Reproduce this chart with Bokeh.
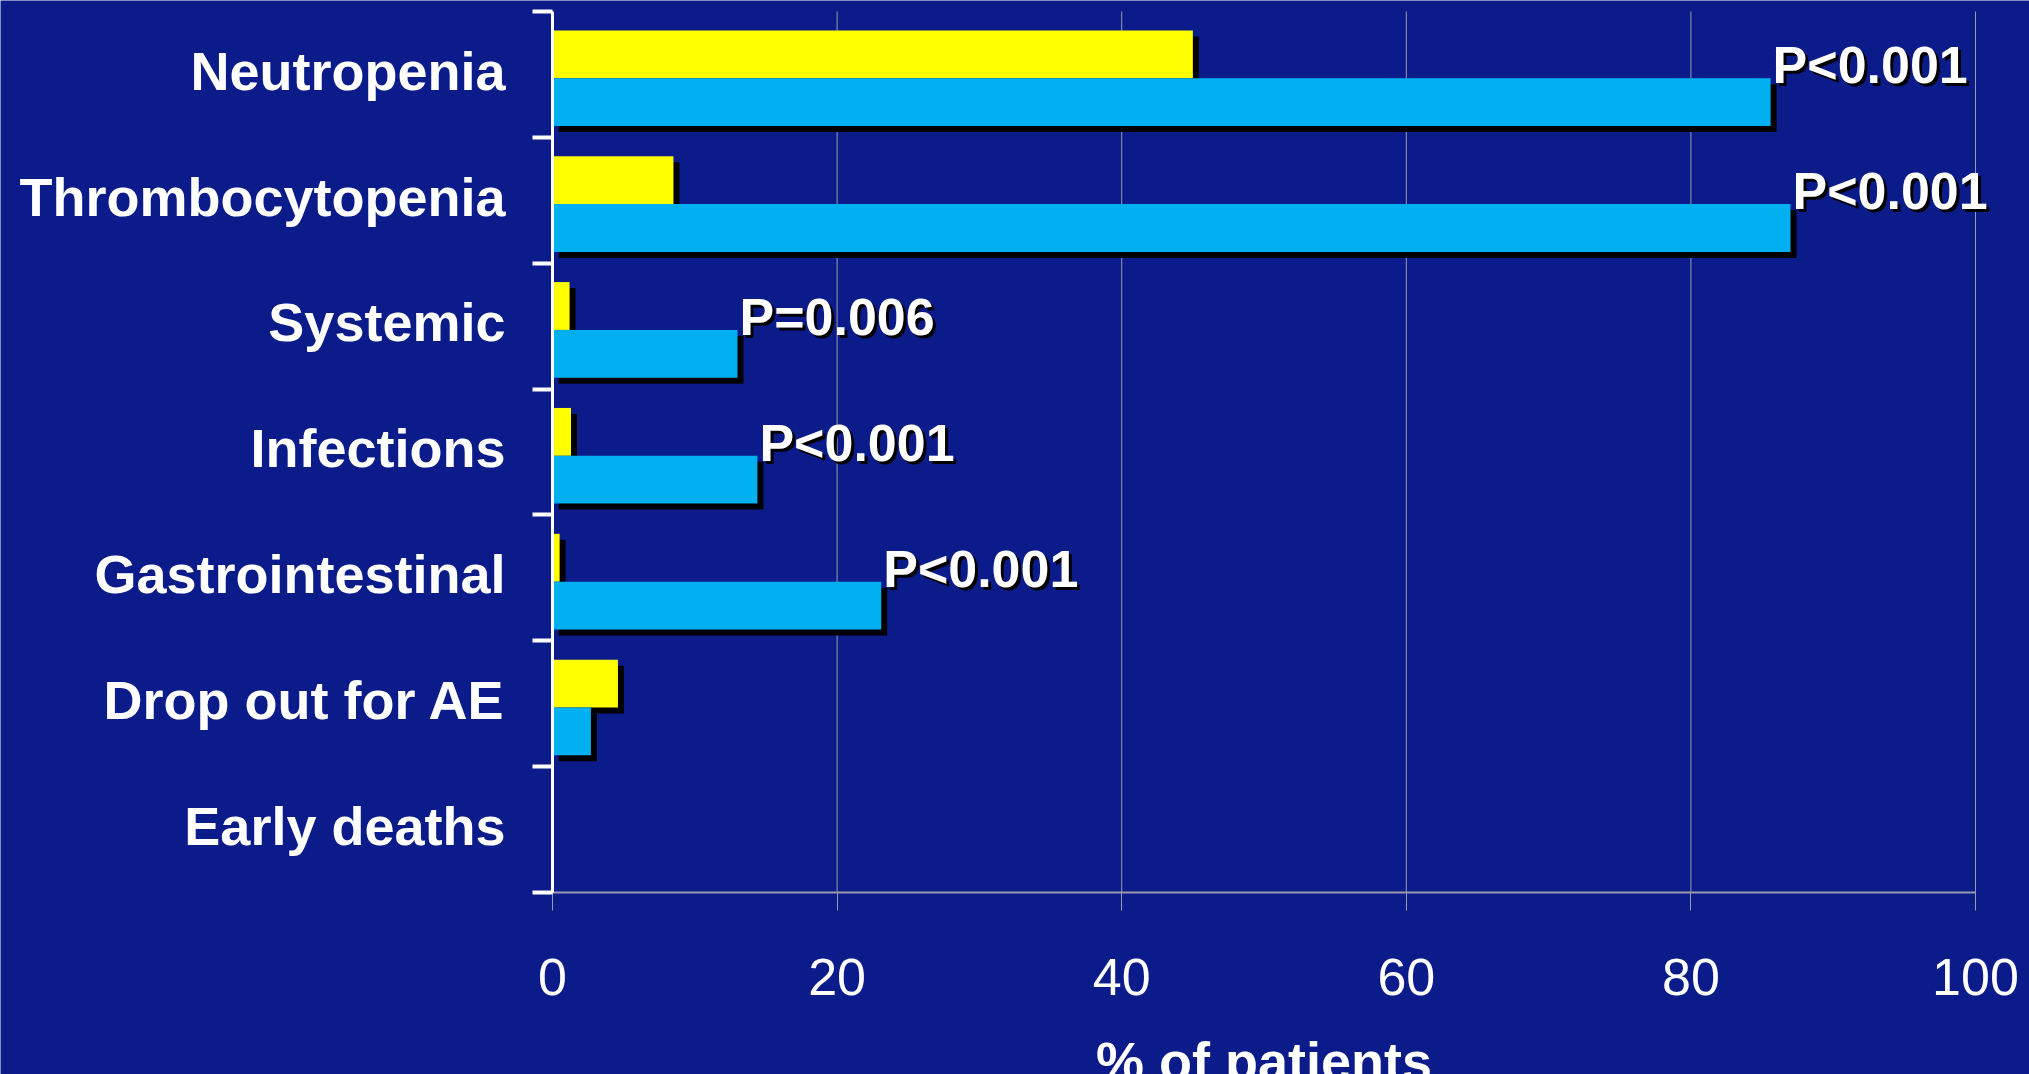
from bokeh.plotting import figure
from bokeh.models import ColumnDataSource, Range1d, FixedTicker, LabelSet
from bokeh.core.properties import value
from bokeh.embed import file_html
from bokeh.resources import INLINE

categories = ["Neutropenia", "Thrombocytopenia", "Systemic", "Infections",
              "Gastrointestinal", "Drop out for AE", "Early deaths"]
yellow_values = [45.0, 8.5, 1.2, 1.3, 0.5, 4.6, 0.0]
blue_values = [85.6, 87.0, 13.0, 14.4, 23.1, 2.7, 0.0]
p_labels = ["P<0.001", "P<0.001", "P=0.006", "P<0.001", "P<0.001", "", ""]
x_ticks = [0, 20, 40, 60, 80, 100]
x_label = "% of patients"

n = len(categories)
pos = [n - i - 0.5 for i in range(n)]
label_pos = [c + 0.03 for c in pos]

BG = "#0b1c8a"
YELLOW = "#FFFF00"
BLUE = "#00B0F0"
GRID = "#9a9aae"
FONT = "Liberation Sans"

# canvas and where the axes sit on it (pixels)
W, H = 2029, 1074
AX_LEFT, AX_RIGHT, AX_TOP, AX_BOTTOM = 552, 1975, 11, 892

x_min, x_max = x_ticks[0], x_ticks[-1]
px_x = (x_max - x_min) / float(AX_RIGHT - AX_LEFT)   # data units per pixel (x)
px_y = n / float(AX_BOTTOM - AX_TOP)                 # data units per pixel (y)
x_range = Range1d(x_min - AX_LEFT * px_x, x_max + (W - AX_RIGHT) * px_x)
y_range = Range1d(0 - (H - AX_BOTTOM) * px_y, n + AX_TOP * px_y)

BAR_H = 0.38
Y_OFF = 0.16
B_OFF = -0.22
dx = 6 * px_x
dy = 6 * px_y

src = ColumnDataSource(dict(
    cat=categories,
    yv=yellow_values,
    bv=blue_values,
    plab=p_labels,
    y_y=[c + Y_OFF for c in pos],
    b_y=[c + B_OFF for c in pos],
    y_sy=[c + Y_OFF - dy for c in pos],
    b_sy=[c + B_OFF - dy for c in pos],
    yv_s=[v + dx for v in yellow_values],
    bv_s=[v + dx for v in blue_values],
    lab_y=[c - 0.07 for c in pos],
))

p = figure(width=W, height=H, x_range=x_range, y_range=y_range,
           output_backend="svg", toolbar_location=None,
           min_border=0, min_border_left=0, min_border_right=0,
           min_border_top=0, min_border_bottom=0,
           background_fill_color=BG, border_fill_color=BG,
           outline_line_color=None)

# vertical grid lines at the x ticks, spanning the category area
p.segment(x0=x_ticks, x1=x_ticks, y0=[0] * len(x_ticks), y1=[n] * len(x_ticks),
          line_color=GRID, line_width=1)

# shadows
p.hbar(y="y_sy", left=dx, right="yv_s", height=BAR_H, source=src,
       fill_color="black", line_color=None)
p.hbar(y="b_sy", left=dx, right="bv_s", height=BAR_H, source=src,
       fill_color="black", line_color=None)
# bars
p.hbar(y="y_y", left=0, right="yv", height=BAR_H, source=src,
       fill_color=YELLOW, line_color=None)
p.hbar(y="b_y", left=0, right="bv", height=BAR_H, source=src,
       fill_color=BLUE, line_color=None)

# p-value labels (shadow + white)
for color, xo, yo in (("black", 5, -3), ("white", 2, 0)):
    p.add_layout(LabelSet(x="bv", y="lab_y", text="plab", source=src,
                          x_offset=xo, y_offset=yo,
                          text_color=color, text_font=value(FONT),
                          text_font_style="bold", text_font_size="52px",
                          text_align="left", text_baseline="alphabetic"))

# y axis (fixed at x = 0)
yax = p.yaxis[0]
yax.fixed_location = 0
yax.bounds = (0, n)
yax.ticker = FixedTicker(ticks=label_pos, minor_ticks=list(range(n + 1)))
yax.major_label_overrides = {c: lab for c, lab in zip(label_pos, categories)}
yax.major_tick_line_color = None
yax.major_tick_out = 0
yax.major_tick_in = 0
yax.minor_tick_line_color = "white"
yax.minor_tick_line_width = 4
yax.minor_tick_out = 20
yax.minor_tick_in = 0
yax.axis_line_color = "white"
yax.axis_line_width = 3
yax.major_label_text_font = FONT
yax.major_label_text_font_style = "bold"
yax.major_label_text_font_size = "54px"
yax.major_label_text_color = "white"
yax.major_label_standoff = 27
p.ygrid.grid_line_color = None

# x axis (fixed at y = 0)
xax = p.xaxis[0]
xax.fixed_location = 0
xax.bounds = (x_min, x_max)
xax.ticker = FixedTicker(ticks=x_ticks)
xax.axis_line_color = GRID
xax.axis_line_width = 2
xax.major_tick_line_color = GRID
xax.major_tick_line_width = 1
xax.major_tick_out = 18
xax.major_tick_in = 0
xax.minor_tick_line_color = None
xax.major_label_text_font = FONT
xax.major_label_text_font_size = "52px"
xax.major_label_text_color = "white"
xax.major_label_standoff = 48
xax.axis_label = x_label
xax.axis_label_text_font = FONT
xax.axis_label_text_font_style = "bold"
xax.axis_label_text_font_size = "54px"
xax.axis_label_text_color = "white"
xax.axis_label_standoff = 33
p.xgrid.grid_line_color = None

open("out.html", "w").write(file_html(p, INLINE))
